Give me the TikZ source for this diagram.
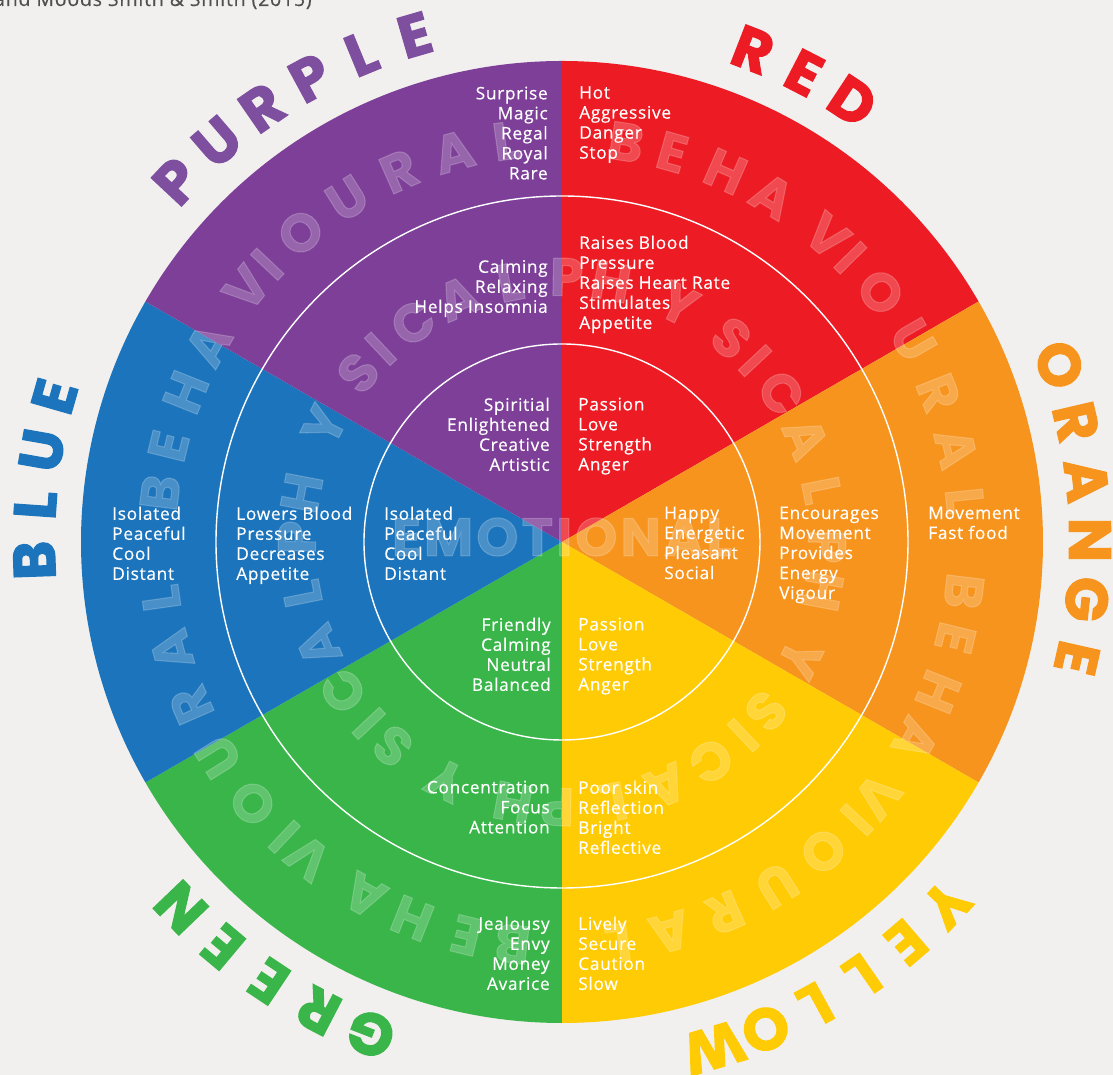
\documentclass[tikz,border=0pt]{standalone}
\usepackage{fontspec}
\setmainfont{Open Sans}[LetterSpace=4, FakeBold=0.4]
\newfontfamily\headfont{Poppins}[FakeBold=2]
\definecolor{paper}{HTML}{F1F0EE}
\definecolor{cpurple}{HTML}{7D3F98}
\definecolor{hpurple}{HTML}{7E4E9F}
\definecolor{cred}{HTML}{ED1C24}
\definecolor{corange}{HTML}{F7941D}
\definecolor{cyellow}{HTML}{FFCB05}
\definecolor{cgreen}{HTML}{39B54A}
\definecolor{cblue}{HTML}{1C75BC}
\definecolor{citegray}{HTML}{505050}
\tikzset{
	txt/.style={font=\fontsize{12.3}{14.23}\selectfont, text=white, inner sep=0pt},
	txtl/.style={txt, align=left, anchor=north west},
	txtr/.style={txt, align=right, anchor=north east},
	wm/.style={font=\headfont\bfseries\fontsize{38}{38}\selectfont, text=white, text opacity=0.2, inner sep=0pt},
	hd/.style={font=\headfont\bfseries\fontsize{42}{42}\selectfont, inner sep=0pt},
	cite/.style={font=\fontsize{13.9}{16}\selectfont, text=citegray, inner sep=0pt}
}
\begin{document}
\begin{tikzpicture}[x=0.025cm, y=0.025cm]
	\useasboundingbox (-562,-533) rectangle (551,542);
	\clip (-562,-533) rectangle (551,542);
	\fill[paper] (-562,-533) rectangle (551,542);
	\node[cite, anchor=base east] (cite) at (-250,536) {and Moods Smith \& Smith (2015)};
	\foreach \c/\a in {cred/90, corange/30, cyellow/-30, cgreen/-90, cblue/-150, cpurple/150}
		\fill[\c] (0,0) -- (\a:481) arc[start angle=\a, delta angle=-60, radius=481] -- cycle;
	\foreach \b [count=\r] in {80.9, -7, -97, 173}
		\foreach \ch/\o [count=\i] in {B/0, E/-6.7, H/-14.7, A/-22.2, V/-31.8, I/-36.3, O/-42.8, U/-51, R/-59.3, A/-67.5, L/-75}
			\node[wm, rotate=\b+\o-90] (bh\r-\i) at ({\b+\o}:405) {\ch};
	\foreach \r in {0,...,3}
		\foreach \ch/\o [count=\i] in {P/0, H/-9.7, Y/-25.1, S/-38.7, I/-45.8, C/-54.8, A/-65.9, L/-77.7}
			\node[wm, rotate=89-90*\r+\o-90] (ph\r-\i) at ({89-90*\r+\o}:265) {\ch};
	\node[wm] (emo) at (0,5) {\addfontfeature{LetterSpace=6}EMOTIONAL};
	\draw[white, line width=1pt] (0,0) circle (346) (0,0) circle (198);
	\foreach \w/\a/\s/\c in {{P,U,R,P,L,E}/136.9/6.14/hpurple, {R,E,D}/68.8/6.1/cred, {O,R,A,N,G,E}/19.6/6.46/corange, {Y,E,L,L,O,W}/-43.3/6/cyellow, {G,R,E,E,N}/-111.2/6.25/cgreen, {B,L,U,E}/182/6/cblue}
		\foreach \ch [count=\i from 0] in \w
			\node[hd, text=\c, rotate=\a-\s*\i-90] (\c-\i) at ({\a-\s*\i}:528) {\ch};
	\node[txtr] (pu-out) at (-14,455.6) {Surprise\\Magic\\Regal\\Royal\\Rare};
	\node[txtl] (re-out) at (17,456) {Hot\\Aggressive\\Danger\\Stop};
	\node[txtr] (pu-mid) at (-14,282.6) {Calming\\Relaxing\\Helps Insomnia};
	\node[txtl] (re-mid) at (17,306.6) {Raises Blood\\Pressure\\Raises Heart Rate\\Stimulates\\Appetite};
	\node[txtr] (pu-in) at (-12,144.6) {Spiritial\\Enlightened\\Creative\\Artistic};
	\node[txtl] (re-in) at (16,144.6) {Passion\\Love\\Strength\\Anger};
	\node[txtl] (bl-out) at (-450,35.6) {Isolated\\Peaceful\\Cool\\Distant};
	\node[txtl] (bl-mid) at (-326,35.6) {Lowers Blood\\Pressure\\Decreases\\Appetite};
	\node[txtl] (bl-in) at (-178,35.6) {Isolated\\Peaceful\\Cool\\Distant};
	\node[txtl] (or-in) at (102,35.6) {Happy\\Energetic\\Pleasant\\Social};
	\node[txtl] (or-mid) at (217,35.6) {Encourages\\Movement\\Provides\\Energy\\Vigour};
	\node[txtl] (or-out) at (366,35.6) {Movement\\Fast food};
	\node[txtr] (gr-in) at (-11,-75.4) {Friendly\\Calming\\Neutral\\Balanced};
	\node[txtl] (ye-in) at (16,-75.4) {Passion\\Love\\Strength\\Anger};
	\node[txtr] (gr-mid) at (-12,-238.4) {Concentration\\Focus\\Attention};
	\node[txtl] (ye-mid) at (16,-238.4) {Poor skin\\Reflection\\Bright\\Reflective};
	\node[txtr] (gr-out) at (-12,-374.4) {Jealousy\\Envy\\Money\\Avarice};
	\node[txtl] (ye-out) at (16,-374.4) {Lively\\Secure\\Caution\\Slow};
\end{tikzpicture}
\end{document}
